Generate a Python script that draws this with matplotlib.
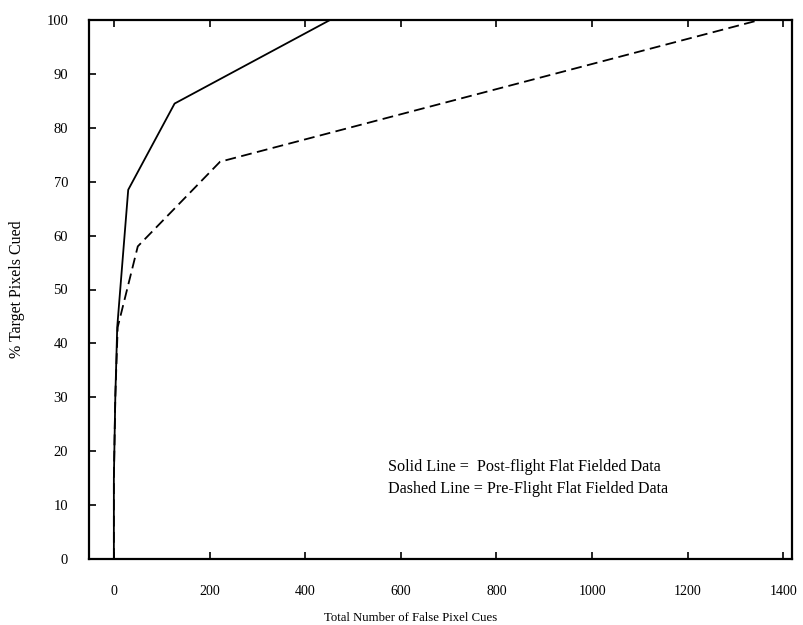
import matplotlib
matplotlib.use("Agg")
import matplotlib.pyplot as plt

post_x = [0, 0, 3, 7, 30, 127, 452]
post_y = [0, 15, 30, 43, 68.5, 84.5, 100]
pre_x = [0, 0, 3, 8, 50, 222, 1350]
pre_y = [0, 15, 30, 43, 58, 73.7, 100]

xticks = [0, 200, 400, 600, 800, 1000, 1200, 1400]
yticks = [0, 10, 20, 30, 40, 50, 60, 70, 80, 90, 100]

plt.rcParams['font.family'] = ['Liberation Serif', 'DejaVu Serif']

fig = plt.figure(figsize=(8.04, 6.25), dpi=100)
ax = fig.add_axes([89/804, 1-559/625, (792-89)/804, (559-20)/625])

ax.plot(post_x, post_y, color='black', lw=1.3, ls='-')
ax.plot(pre_x, pre_y, color='black', lw=1.3, ls=(0, (6, 3)))

ax.set_xlim(-52, 1418)
ax.set_ylim(0, 100)
ax.set_xticks(xticks)
ax.set_yticks(yticks)
ax.tick_params(direction='in', length=5, width=1.2, labelsize=10.5, top=True)
ax.tick_params(axis='x', pad=19, labelsize=10)
ax.tick_params(axis='y', pad=15)
for s in ax.spines.values():
    s.set_linewidth(1.6)

ax.set_xlabel('Total Number of False Pixel Cues', fontsize=9.2)
ax.xaxis.set_label_coords(0.458, -0.098)
ax.set_ylabel('% Target Pixels Cued', fontsize=11.5, labelpad=15)

ax.text(573, 17.1, 'Solid Line =  Post-flight Flat Fielded Data', fontsize=11.6, va='center', ha='left')
ax.text(573, 13.0, 'Dashed Line = Pre-Flight Flat Fielded Data', fontsize=11.6, va='center', ha='left')

fig.savefig('out.png', dpi=100)
